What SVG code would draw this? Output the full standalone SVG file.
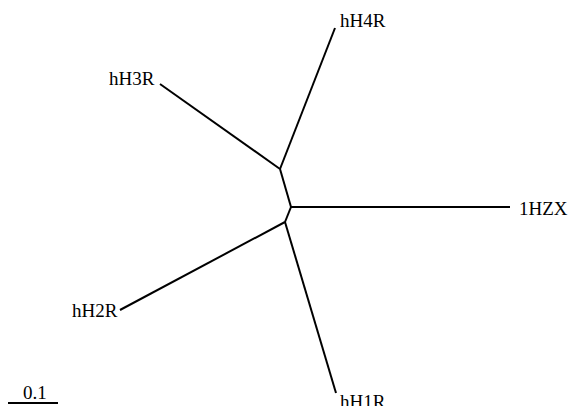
<svg xmlns="http://www.w3.org/2000/svg" width="570" height="406" viewBox="0 0 570 406">
<style>
.e{stroke:#000;stroke-width:2;fill:none;stroke-linecap:butt}
text{font-family:"Liberation Serif","Times New Roman",serif;font-size:19px;fill:#000}
</style>
<rect width="570" height="406" fill="#fff"/>
<g id="connectors">
<line class="e" x1="280" y1="169" x2="335" y2="28"/>
<line class="e" x1="280" y1="169" x2="160" y2="84"/>
<line class="e" x1="280" y1="169" x2="291" y2="207"/>
<line class="e" x1="291" y1="207" x2="510" y2="207"/>
<line class="e" x1="291" y1="207" x2="285" y2="222"/>
<line class="e" x1="285" y1="222" x2="120" y2="310"/>
<line class="e" x1="285" y1="222" x2="336" y2="393"/>
</g>
<g id="hH4R"><text x="340" y="27">hH4R</text></g>
<g id="hH3R"><text x="109" y="85">hH3R</text></g>
<g id="1HZX"><text x="519" y="215">1HZX</text></g>
<g id="hH2R"><text x="72" y="317">hH2R</text></g>
<g id="hH1R"><text x="340" y="408">hH1R</text></g>
<g id="scale">
<line class="e" x1="8" y1="403" x2="58" y2="403"/>
<text x="23" y="399">0.1</text>
</g>
</svg>
